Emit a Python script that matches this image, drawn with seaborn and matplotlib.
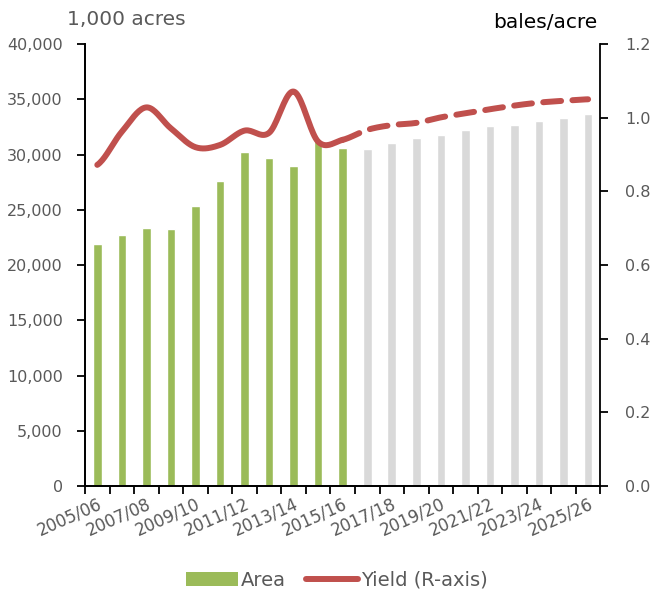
import numpy as np
import pandas as pd
import matplotlib
matplotlib.use("Agg")
import matplotlib.pyplot as plt
from matplotlib.patches import Patch
from matplotlib.lines import Line2D
import seaborn as sns

# marketing years
years = ['2005/06', '2006/07', '2007/08', '2008/09', '2009/10', '2010/11', '2011/12',
         '2012/13', '2013/14', '2014/15', '2015/16', '2016/17', '2017/18', '2018/19',
         '2019/20', '2020/21', '2021/22', '2022/23', '2023/24', '2024/25', '2025/26']
# area, 1,000 acres
area = [21950, 22700, 23350, 23250, 25350, 27600, 30200, 29700, 28950, 31200, 30600,
        30500, 31050, 31500, 31750, 32200, 32600, 32700, 33050, 33300, 33700]
# yield, bales/acre
yield_ = [0.872, 0.962, 1.028, 0.971, 0.920, 0.926, 0.965, 0.959, 1.071, 0.935, 0.940,
          0.967, 0.980, 0.986, 1.001, 1.012, 1.023, 1.033, 1.041, 1.046, 1.050]
n_hist = 11  # historic years, rest projection

green = '#9BBB59'
grey = '#D9D9D9'
red = '#C0504D'
txt = '#595959'

sns.set_style('white')
plt.rcParams['font.family'] = ['DejaVu Sans']

df = pd.DataFrame({'year': years, 'area': area,
                   'kind': ['hist'] * n_hist + ['proj'] * (len(years) - n_hist)})

fig, ax = plt.subplots(figsize=(6.54, 5.95), dpi=100)
fig.subplots_adjust(left=0.130, right=0.918, top=0.926, bottom=0.183)

sns.barplot(data=df, x='year', y='area', hue='kind', palette={'hist': green, 'proj': grey},
            dodge=False, width=0.35, legend=False, ax=ax, saturation=1)
ax.set_ylim(0, 40000)
ax.set_xlim(-0.5, len(years) - 0.5)
ax.set_yticks(np.arange(0, 40001, 5000))
ax.set_yticklabels([f'{v:,}' for v in range(0, 40001, 5000)])
ax.set_xlabel('')
ax.set_ylabel('')
ax.set_xticks(np.arange(-0.5, len(years), 1), minor=True)
ax.set_xticks(np.arange(0, len(years), 2))
ax.set_xticklabels(years[::2], rotation=24, ha='right', rotation_mode='anchor')
ax.tick_params(axis='x', which='major', length=0, pad=6, labelsize=12, colors=txt)
ax.tick_params(axis='x', which='minor', length=6, width=1.3, color='black', direction='out')
ax.tick_params(axis='y', length=6, width=1.3, color='black', labelsize=11.5, labelcolor=txt,
               direction='out', pad=10)
ax.xaxis.set_tick_params(which='minor', bottom=True)

# smoothed yield line (Catmull-Rom like Excel)
def smooth(y, steps=20):
    p = np.concatenate([[y[0]], y, [y[-1]]])
    xs, ys = [], []
    for i in range(len(y) - 1):
        p0, p1, p2, p3 = p[i], p[i + 1], p[i + 2], p[i + 3]
        t = np.linspace(0, 1, steps, endpoint=False)
        yy = 0.5 * ((2 * p1) + (-p0 + p2) * t + (2 * p0 - 5 * p1 + 4 * p2 - p3) * t ** 2
                    + (-p0 + 3 * p1 - 3 * p2 + p3) * t ** 3)
        xs.extend(i + t)
        ys.extend(yy)
    xs.append(len(y) - 1)
    ys.append(y[-1])
    return np.array(xs), np.array(ys)

sx, sy = smooth(np.array(yield_))
line_df = pd.DataFrame({'x': sx, 'y': sy})
ax2 = ax.twinx()
hist_part = line_df[line_df.x <= n_hist - 1]
proj_part = line_df[line_df.x >= n_hist - 1]
sns.lineplot(data=hist_part, x='x', y='y', color=red, lw=4.3, ax=ax2,
             solid_capstyle='round', sort=False)
sns.lineplot(data=proj_part, x='x', y='y', color=red, lw=4.3, ax=ax2,
             dashes=False, sort=False)
ax2.lines[-1].set_dashes((3.0, 1.9))
ax2.lines[-1].set_dash_capstyle('round')
ax2.set_ylim(0, 1.2)
ax2.set_yticks(np.arange(0, 1.21, 0.2))
ax2.set_yticklabels([f'{v:.1f}' for v in np.arange(0, 1.21, 0.2)])
ax2.set_xlabel('')
ax2.set_ylabel('')
ax2.tick_params(axis='y', length=6, width=1.3, color='black', labelsize=11.5, labelcolor=txt,
                direction='out', pad=12)

for a in (ax, ax2):
    a.spines['top'].set_visible(False)
    for s in ('left', 'right', 'bottom'):
        a.spines[s].set_color('black')
        a.spines[s].set_linewidth(1.3)
ax.spines['right'].set_visible(False)

fig.text(0.102, 0.967, '1,000 acres', fontsize=14.5, color=txt, ha='left', va='center')
fig.text(0.914, 0.962, 'bales/acre', fontsize=14.5, color='black', ha='right', va='center')

handles = [Patch(facecolor=green, edgecolor='none'),
           Line2D([0], [0], color=red, lw=4.3, solid_capstyle='round')]
fig.legend(handles, ['Area', 'Yield (R-axis)'], loc='center', bbox_to_anchor=(0.515, 0.025),
           ncol=2, frameon=False, fontsize=14, handlelength=2.7, handleheight=0.7,
           columnspacing=1.0, handletextpad=0.15, labelcolor=txt)

fig.savefig('out.png', dpi=100)
